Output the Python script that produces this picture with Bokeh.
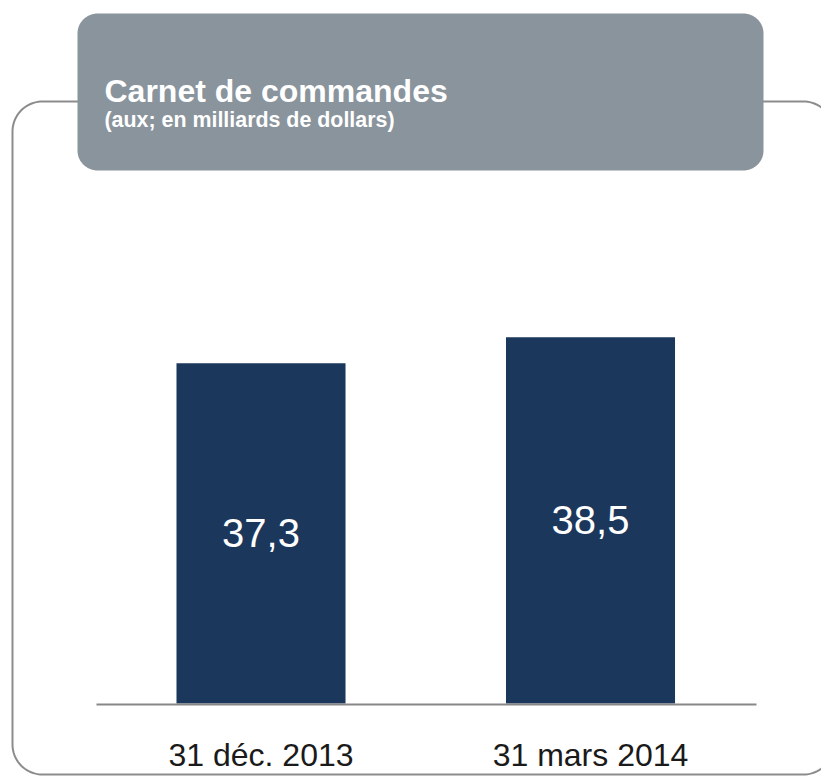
import numpy as np
from bokeh.plotting import figure
from bokeh.models import Range1d, FactorRange, ColumnDataSource
from bokeh.transform import dodge
from bokeh.core.properties import value
from bokeh.embed import file_html
from bokeh.resources import INLINE

# ---- data ----
categories = ["31 déc. 2013", "31 mars 2014"]
backlog = [37.3, 38.5]
title = "Carnet de commandes"
subtitle = "(aux; en milliards de dollars)"

# ---- layout constants ----
W, H = 821, 777
PXU = 329.5                                   # canvas pixels per factor unit
PAD = (W / PXU - len(categories)) / 2         # factor-range padding (absolute)
BASE = 21.6                  # value at the baseline of the bars
PX_PER_VAL = 21.67           # vertical pixels per value unit
BASE_Y = 703                 # canvas y (from top) of the baseline
FONT = "Liberation Sans"
NAVY = "#1c375c"
HEADER = "#89949d"
FRAME = "#8c8c8c"

val_lo = BASE - (H - BASE_Y) / PX_PER_VAL
val_hi = val_lo + H / PX_PER_VAL

cat_range = FactorRange(factors=categories, range_padding=PAD,
                        range_padding_units="absolute")

p = figure(width=W, height=H, x_range=cat_range, y_range=Range1d(H, 0),
           x_axis_type=None, y_axis_type=None, output_backend="svg",
           toolbar_location=None, min_border=0)
p.grid.visible = False
p.outline_line_color = None
p.background_fill_color = "white"
p.extra_y_ranges = {"val": Range1d(val_lo, val_hi)}


def ux(px):
    """canvas pixel x -> synthetic coordinate on the factor range"""
    return -PAD + np.asarray(px, dtype=float) / PXU


def rounded_rect(x0, y0, x1, y1, r, n=24):
    xs, ys = [], []
    corners = [
        (x1 - r, y0 + r, -np.pi / 2, 0),
        (x1 - r, y1 - r, 0, np.pi / 2),
        (x0 + r, y1 - r, np.pi / 2, np.pi),
        (x0 + r, y0 + r, np.pi, 1.5 * np.pi),
    ]
    for cx, cy, a0, a1 in corners:
        t = np.linspace(a0, a1, n)
        xs.extend(cx + r * np.cos(t))
        ys.extend(cy + r * np.sin(t))
    xs.append(xs[0]); ys.append(ys[0])
    return list(ux(xs)), ys


# outer frame
fx, fy = rounded_rect(12, 101, 833, 774, 30)
p.line(fx, fy, line_color=FRAME, line_width=2)

# header box
hx, hy = rounded_rect(77, 13, 763, 170, 20)
p.patch(hx, hy, fill_color=HEADER, line_color=None)

p.text(x=list(ux([104])), y=[90.5], text=[title], text_color="white",
       text_font=value(FONT), text_font_style="bold", text_font_size="32px",
       text_baseline="alphabetic", text_align="left")
p.text(x=list(ux([104])), y=[119], text=[subtitle], text_color="white",
       text_font=value(FONT), text_font_style="bold", text_font_size="21.4px",
       text_baseline="alphabetic", text_align="left")

# bars
src = ColumnDataSource(dict(
    cat=categories,
    val=backlog,
    mid=[(BASE + v) / 2 for v in backlog],
    lab=[f"{v:.1f}".replace(".", ",") for v in backlog],
))
OFFSET = 0.0448
xcat = dodge("cat", OFFSET, range=cat_range)
p.vbar(x=xcat, top="val", bottom=BASE, width=0.513, source=src,
       fill_color=NAVY, line_color=None, y_range_name="val")
p.text(x=xcat, y="mid", text="lab", source=src, text_color="white",
       text_font=value(FONT), text_font_size="40px",
       text_align="center", text_baseline="middle", y_range_name="val")

# baseline
p.segment(x0=list(ux([96])), y0=[BASE_Y + 1], x1=list(ux([756])), y1=[BASE_Y + 1],
          line_color="#888888", line_width=2)

# category labels
p.text(x=xcat, y=754, text="cat", source=src, text_color="#1a1a1a",
       text_font=value(FONT), text_font_size="32px",
       text_align="center", text_baseline="alphabetic")

open("out.html", "w").write(file_html(p, INLINE))
